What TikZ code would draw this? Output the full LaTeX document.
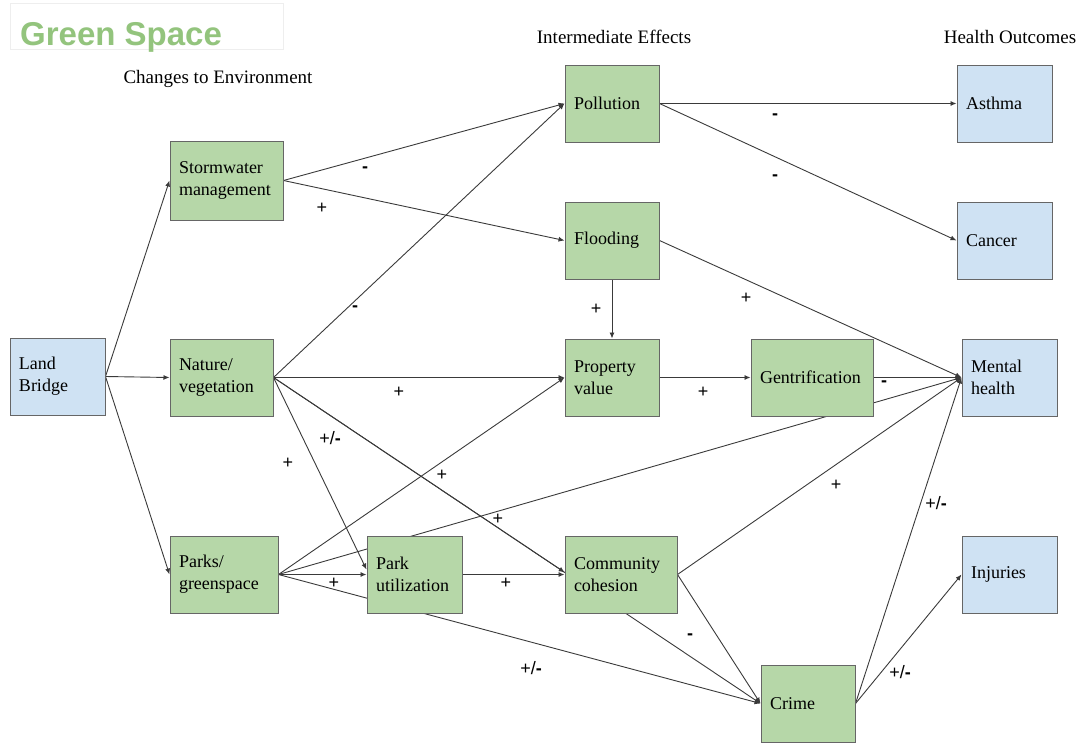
\documentclass[tikz,border=0pt]{standalone}
\usepackage{fontspec}
\setmainfont{Liberation Serif}
\newfontfamily\lblfont{Liberation Sans}
\usetikzlibrary{arrows.meta,backgrounds,calc}
\definecolor{gfill}{HTML}{B6D7A8}
\definecolor{bfill}{HTML}{CFE2F3}
\definecolor{bordergray}{HTML}{666666}
\definecolor{linegray}{HTML}{3A3A3A}
\definecolor{titlegreen}{HTML}{93C47D}
\definecolor{titleborder}{HTML}{EEEEEE}
\tikzset{
  box/.style={draw=bordergray, line width=1pt, inner xsep=9pt, inner ysep=0pt,
    align=left, font=\fontsize{18}{22}\selectfont},
  gbox/.style={box, fill=gfill},
  bbox/.style={box, fill=bfill},
  hdr/.style={font=\fontsize{19}{22}\selectfont},
  lbl/.style={font=\lblfont\fontsize{18}{20}\selectfont, inner sep=0pt},
  conn/.style={draw=linegray, line width=0.9pt},
  arr/.style={conn, -{Latex[length=6pt,width=5pt]}}
}
\begin{document}
\begin{tikzpicture}[x=1pt,y=-1pt]
\useasboundingbox (0,0) rectangle (1082,744);
% title
\node[draw=titleborder, line width=0.8pt, fill=white, minimum width=273pt, minimum height=46pt, inner sep=0pt] (tbox) at (146.5,26) {};
\node[anchor=base west, inner sep=0pt, text=titlegreen, font=\lblfont\bfseries\fontsize{33}{36}\selectfont] (title) at (20,45) {Green Space};
% headers
\node[hdr] (h1) at (218,79) {Changes to Environment};
\node[hdr] (h2) at (614,37) {Intermediate Effects};
\node[hdr] (h3) at (1010,37) {Health Outcomes};
% nodes
\node[bbox, text width=77pt, minimum height=77pt] (lb) at (57.5,376.5) {Land\\Bridge};
\node[gbox, text width=95pt, minimum height=79pt] (sw) at (226.5,180.5) {Stormwater\\management};
\node[gbox, text width=85pt, minimum height=77pt] (nv) at (221.5,377.5) {Nature/\\vegetation};
\node[gbox, text width=90pt, minimum height=77pt] (pg) at (224,574.5) {Parks/\\greenspace};
\node[gbox, text width=76pt, minimum height=77pt] (pol) at (612,103.5) {Pollution};
\node[gbox, text width=76pt, minimum height=77pt] (fl) at (612,240.5) {Flooding};
\node[gbox, text width=76pt, minimum height=77pt] (pv) at (612,377.5) {Property\\value};
\node[gbox, text width=104pt, minimum height=77pt] (gen) at (812,377.5) {Gentrification};
\node[gbox, text width=77pt, minimum height=77pt] (pu) at (414.5,574.5) {Park\\utilization};
\node[gbox, text width=94pt, minimum height=77pt] (cc) at (621,574.5) {Community\\cohesion};
\node[gbox, text width=76pt, minimum height=77pt] (cr) at (808,703.5) {Crime};
\node[bbox, text width=77pt, minimum height=77pt] (as) at (1004.5,103.5) {Asthma};
\node[bbox, text width=77pt, minimum height=77pt] (ca) at (1004.5,240.5) {Cancer};
\node[bbox, text width=77pt, minimum height=77pt] (mh) at (1009.5,377.5) {Mental\\health};
\node[bbox, text width=77pt, minimum height=77pt] (inj) at (1009.5,574.5) {Injuries};
% connectors
\begin{pgfonlayer}{background}
\draw[arr] (lb.east) -- (sw.west);
\draw[arr] (lb.east) -- (nv.west);
\draw[arr] (lb.east) -- (pg.west);
\draw[arr] (sw.east) -- (pol.west);
\draw[arr] (sw.east) -- (fl.west);
\draw[arr] (nv.east) -- (pol.west);
\draw[arr] (nv.east) -- (pv.west);
\draw[arr] (nv.east) -- ([yshift=5pt]pu.west);
\draw[arr] (nv.east) -- ($(nv.east)!0.598!(cr.west)$);
\draw[arr] (nv.east) -- (cr.west);
\draw[arr] (pg.east) -- (pv.west);
\draw[arr] (pg.east) -- (pu.west);
\draw[arr] (pg.east) -- (mh.west);
\draw[arr] (pg.east) -- (cr.west);
\draw[arr] (pu.east) -- (cc.west);
\draw[arr] (pol.east) -- (as.west);
\draw[arr] (pol.east) -- (ca.west);
\draw[arr] (fl.south) -- (pv.north);
\draw[arr] (fl.east) -- (mh.west);
\draw[arr] (pv.east) -- (gen.west);
\draw[arr] (gen.east) -- (mh.west);
\draw[arr] (cc.east) -- (mh.west);
\draw[arr] (cc.east) -- (cr.west);
\draw[arr] (cr.east) -- (mh.west);
\draw[arr] (cr.east) -- (inj.west);
\end{pgfonlayer}
% labels
\node[lbl] (l1) at (365,170) {\textbf{-}};
\node[lbl] (l2) at (322,208) {+};
\node[lbl] (l3) at (355,309) {\textbf{-}};
\node[lbl] (l4) at (399,392) {+};
\node[lbl] (l5) at (330,438) {+/\textbf{-}};
\node[lbl] (l6) at (288,463) {+};
\node[lbl] (l7) at (442,475) {+};
\node[lbl] (l8) at (498,519) {+};
\node[lbl] (l9) at (334,583) {+};
\node[lbl] (l10) at (506,583) {+};
\node[lbl] (l11) at (531,668) {+/\textbf{-}};
\node[lbl] (l12) at (690,637) {\textbf{-}};
\node[lbl] (l13) at (596,309) {+};
\node[lbl] (l14) at (746,298) {+};
\node[lbl] (l15) at (775,117) {\textbf{-}};
\node[lbl] (l16) at (775,178) {\textbf{-}};
\node[lbl] (l17) at (703,392) {+};
\node[lbl] (l18) at (884,384) {\textbf{-}};
\node[lbl] (l19) at (836,485) {+};
\node[lbl] (l20) at (936,503) {+/\textbf{-}};
\node[lbl] (l21) at (900,672) {+/\textbf{-}};
\end{tikzpicture}
\end{document}
